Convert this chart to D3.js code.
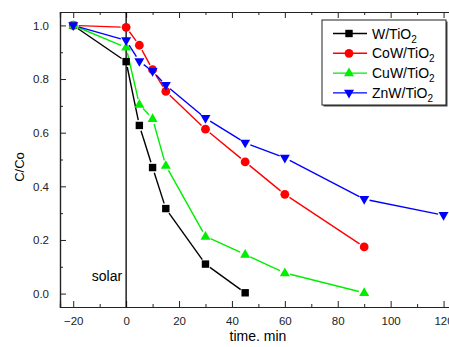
<!DOCTYPE html>
<html>
<head>
<meta charset="utf-8">
<script src="https://cdn.jsdelivr.net/npm/d3@7"></script>
<style>
  body { margin: 0; background: #fff; }
  svg { display: block; font-family: "Liberation Sans", Arial, sans-serif; }
  .axis text { font-size: 11.5px; fill: #222; }
  .axis path, .axis line { stroke: #222; }
</style>
</head>
<body>
<div id="visualization"></div>
<script>
// data
const names = ['W/TiO', 'CoW/TiO', 'CuW/TiO', 'ZnW/TiO']
const colors = ['#000000', '#ff0000', '#00ee00', '#0000ff']
const symbols = ['square', 'circle', 'up', 'down']

const timeW = [-20, 0, 5, 10, 15, 30, 45]
const valW = [1.0, 0.865, 0.627, 0.47, 0.317, 0.11, 0.003]

const timeCo = [-20, 0, 5, 10, 15, 30, 45, 60, 90]
const valCo = [1.0, 0.993, 0.926, 0.835, 0.754, 0.613, 0.491, 0.37, 0.174]

const timeCu = [-20, 0, 5, 10, 15, 30, 45, 60, 90]
const valCu = [1.0, 0.918, 0.705, 0.652, 0.477, 0.213, 0.146, 0.077, 0.003]

const timeZn = [-20, 0, 5, 10, 15, 30, 45, 60, 90, 120]
const valZn = [1.0, 0.944, 0.866, 0.829, 0.777, 0.654, 0.562, 0.506, 0.352, 0.292]

const xTicks = [-20, 0, 20, 40, 60, 80, 100, 120]
const yTicks = [0.0, 0.2, 0.4, 0.6, 0.8, 1.0]

const series = [
  { t: timeW, v: valW },
  { t: timeCo, v: valCo },
  { t: timeCu, v: valCu },
  { t: timeZn, v: valZn }
].map((s, i) => ({
  name: names[i], color: colors[i], sym: symbols[i],
  points: s.t.map((t, j) => ({ t: t, v: s.v[j] }))
}))

//BOX
const w = 449
const h = 347
const mLeft = 60, mTop = 12, mBottom = 307
const mRight = 470 // right axis falls outside the window

const svg = d3.select('#visualization')
  .append('svg')
  .attr('width', w)
  .attr('height', h)

//SCALES
const xScale = d3.scaleLinear().domain([-25, 130]).range([mLeft, mRight])
const yScale = d3.scaleLinear().domain([-0.05, 1.05]).range([mBottom, mTop])

//AXES (ticks point inward, minor ticks in between)
function minor(axisGen, vals) {
  return axisGen.tickValues(vals).tickFormat('')
}
const xMinor = d3.range(-20, 131, 10).filter(d => d % 20 !== 0)
const yMinor = d3.range(0.1, 1.0, 0.2)

svg.append('g').attr('class', 'axis')
  .attr('transform', `translate(0,${mBottom})`)
  .call(d3.axisBottom(xScale).tickValues(xTicks).tickSize(-6).tickPadding(10).tickFormat(d3.format('d')))
svg.append('g').attr('class', 'axis')
  .attr('transform', `translate(0,${mBottom})`)
  .call(minor(d3.axisBottom(xScale), xMinor).tickSize(-3))

svg.append('g').attr('class', 'axis')
  .attr('transform', `translate(0,${mTop})`)
  .call(d3.axisTop(xScale).tickValues(xTicks).tickSize(-6).tickFormat(''))
svg.append('g').attr('class', 'axis')
  .attr('transform', `translate(0,${mTop})`)
  .call(minor(d3.axisTop(xScale), xMinor).tickSize(-3))

svg.append('g').attr('class', 'axis')
  .attr('transform', `translate(${mLeft},0)`)
  .call(d3.axisLeft(yScale).tickValues(yTicks).tickSize(-6).tickPadding(11).tickFormat(d3.format('.1f')))
svg.append('g').attr('class', 'axis')
  .attr('transform', `translate(${mLeft},0)`)
  .call(minor(d3.axisLeft(yScale), yMinor).tickSize(-3))

svg.selectAll('.axis path').attr('stroke-width', 1.2)

// solar switch-on line
svg.append('line')
  .attr('x1', xScale(0)).attr('x2', xScale(0))
  .attr('y1', mTop).attr('y2', mBottom)
  .attr('stroke', '#000').attr('stroke-width', 1.3)

svg.append('text')
  .attr('x', xScale(0) - 4).attr('y', 281)
  .attr('text-anchor', 'end')
  .attr('font-size', 14)
  .text('solar')

//LINES with gaps at the markers
const gap = 5.5
series.forEach(s => {
  const g = svg.append('g')
  for (let i = 0; i < s.points.length - 1; i++) {
    const x1 = xScale(s.points[i].t), y1 = yScale(s.points[i].v)
    const x2 = xScale(s.points[i + 1].t), y2 = yScale(s.points[i + 1].v)
    const len = Math.hypot(x2 - x1, y2 - y1)
    if (len <= gap * 2) continue
    const ux = (x2 - x1) / len, uy = (y2 - y1) / len
    g.append('line')
      .attr('x1', x1 + ux * gap).attr('y1', y1 + uy * gap)
      .attr('x2', x2 - ux * gap).attr('y2', y2 - uy * gap)
      .attr('stroke', s.color).attr('stroke-width', 1.4)
  }
})

//MARKERS
function marker(sel, sym, color) {
  if (sym === 'square') {
    sel.append('rect').attr('x', -3.7).attr('y', -3.7).attr('width', 7.4).attr('height', 7.4).attr('fill', color)
  } else if (sym === 'circle') {
    sel.append('circle').attr('r', 4.4).attr('fill', color)
  } else if (sym === 'up') {
    sel.append('path').attr('d', 'M0,-5.5L5,3.2L-5,3.2Z').attr('fill', color)
  } else {
    sel.append('path').attr('d', 'M0,5.5L5,-3.2L-5,-3.2Z').attr('fill', color)
  }
}

series.forEach(s => {
  svg.append('g')
    .selectAll('g')
    .data(s.points)
    .enter()
    .append('g')
    .attr('transform', d => `translate(${xScale(d.t)},${yScale(d.v)})`)
    .each(function () { marker(d3.select(this), s.sym, s.color) })
})

//AXIS TITLES
svg.append('text')
  .attr('transform', `translate(24,167) rotate(-90)`)
  .attr('text-anchor', 'middle')
  .attr('font-size', 13)
  .text('C/Co')

svg.append('text')
  .attr('x', 258).attr('y', 341)
  .attr('text-anchor', 'middle')
  .attr('font-size', 14)
  .text('time. min')

//LEGEND
const lg = svg.append('g').attr('transform', 'translate(322,20)')
lg.append('rect')
  .attr('x', 1.5).attr('y', 1.5).attr('width', 124).attr('height', 85)
  .attr('fill', '#444')
lg.append('rect')
  .attr('width', 124).attr('height', 85)
  .attr('fill', '#fff').attr('stroke', '#222').attr('stroke-width', 1)

series.forEach((s, i) => {
  const y = 13.5 + i * 19.8
  const row = lg.append('g').attr('transform', `translate(0,${y})`)
  row.append('line').attr('x1', 11).attr('x2', 45).attr('y1', 0).attr('y2', 0)
    .attr('stroke', s.color).attr('stroke-width', 1.4)
  marker(row.append('g').attr('transform', 'translate(27,0)'), s.sym, s.color)
  const t = row.append('text').attr('x', 50).attr('y', 5).attr('font-size', 14)
  t.append('tspan').text(s.name)
  t.append('tspan').attr('font-size', 10).attr('dy', 4).text('2')
})
</script>
</body>
</html>
